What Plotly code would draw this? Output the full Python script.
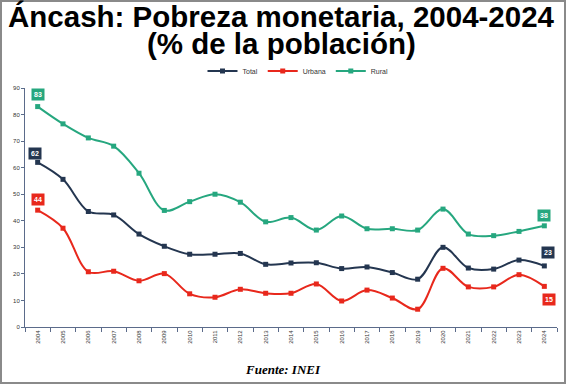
import plotly.graph_objects as go

years = [str(y) for y in range(2004, 2025)]
total = [62, 55.6, 43.5, 42.2, 35, 30.4, 27.4, 27.4, 27.7, 23.6, 24.1, 24.2, 22, 22.6, 20.5, 18, 30, 22.2, 21.8, 25.2, 23]
urbana = [44, 37.2, 20.8, 21, 17.4, 20.1, 12.5, 11.2, 14.2, 12.7, 12.7, 16.2, 9.8, 13.9, 10.9, 6.7, 22.1, 15.1, 15.1, 19.7, 15.3]
rural = [83, 76.5, 71.2, 68.1, 57.9, 43.9, 47.2, 50, 47, 39.6, 41.2, 36.5, 41.8, 37, 37, 36.5, 44.4, 35, 34.4, 36, 38.1]
yticks = [0, 10, 20, 30, 40, 50, 60, 70, 80, 90]
title_lines = ["Áncash: Pobreza monetaria, 2004-2024", "(% de la población)"]

series = [("Total", total, "#243650"), ("Urbana", urbana, "#e8281c"), ("Rural", rural, "#26a77f")]

L, R, T, B = 25, 557, 88, 327
W = R - L
H = B - T

def px(x):
    return (x - L) / W

def py(y):
    return (B - y) / H

fig = go.Figure()
for name, vals, col in series:
    fig.add_trace(go.Scatter(
        x=years, y=vals, name=name, mode="lines+markers",
        line=dict(color=col, width=2, shape="spline", smoothing=1),
        marker=dict(symbol="square", size=5, color=col),
    ))

# value labels at the ends (category index 0 and last)
last = len(years) - 1
labels = [
    (0, rural[0], "#26a77f", 0, 12),
    (0, total[0], "#243650", -3, 9),
    (0, urbana[0], "#e8281c", 0, 11),
    (last, rural[-1], "#26a77f", 0, 10),
    (last, total[-1], "#243650", 4, 13),
    (last, urbana[-1], "#e8281c", 5, -13),
]
for xi, yv, col, xs, ys in labels:
    fig.add_annotation(xref="x", yref="y", x=xi, y=yv, text="<b>%d</b>" % round(yv), showarrow=False,
                       xshift=xs, yshift=ys, bgcolor=col, borderpad=2,
                       xanchor="center", yanchor="middle",
                       font=dict(color="white", size=7, family="Liberation Sans"))

# title lines
for txt, yc in zip(title_lines, [16, 44]):
    fig.add_annotation(xref="paper", yref="paper", x=px(281), y=py(yc), text="<b>%s</b>" % txt,
                       showarrow=False, xanchor="center", yanchor="middle",
                       font=dict(family="Liberation Sans", size=29.5, color="black"))

# source
fig.add_annotation(xref="paper", yref="paper", x=px(283), y=py(369),
                   text="<b><i>Fuente: INEI</i></b>", showarrow=False,
                   font=dict(family="Liberation Serif", size=13, color="black"),
                   xanchor="center", yanchor="middle")

# frame
fig.add_shape(type="rect", xref="paper", yref="paper",
              x0=px(1), x1=px(565), y0=py(383), y1=py(1),
              line=dict(color="#8a8a8a", width=2))

fig.update_layout(
    width=567, height=384,
    margin=dict(l=L, r=567 - R, t=T, b=384 - B),
    paper_bgcolor="white", plot_bgcolor="white",
    showlegend=True,
    legend=dict(orientation="h", x=px(298), xanchor="center", y=py(71), yanchor="middle",
                font=dict(size=7, family="Liberation Sans", color="#333"), itemwidth=30,
                bgcolor="rgba(0,0,0,0)"),
    xaxis=dict(type="category", range=[-0.5, 20.5], tickson="boundaries", ticks="outside", ticklen=4,
               tickcolor="#5b6b8a", showline=True, linecolor="#5b6b8a", linewidth=1, showgrid=False,
               tickangle=-90, automargin=False,
               tickfont=dict(size=6, family="Liberation Sans", color="#333")),
    yaxis=dict(range=[0, 90], tickvals=yticks, ticks="outside", ticklen=3, tickcolor="#5b6b8a",
               showline=True, linecolor="#5b6b8a", linewidth=1, showgrid=False, zeroline=False,
               automargin=False,
               tickfont=dict(size=6, family="Liberation Sans", color="#333")),
)

fig.write_html("out.html", config={"displayModeBar": False},
               post_script="document.body.style.margin='0';")
